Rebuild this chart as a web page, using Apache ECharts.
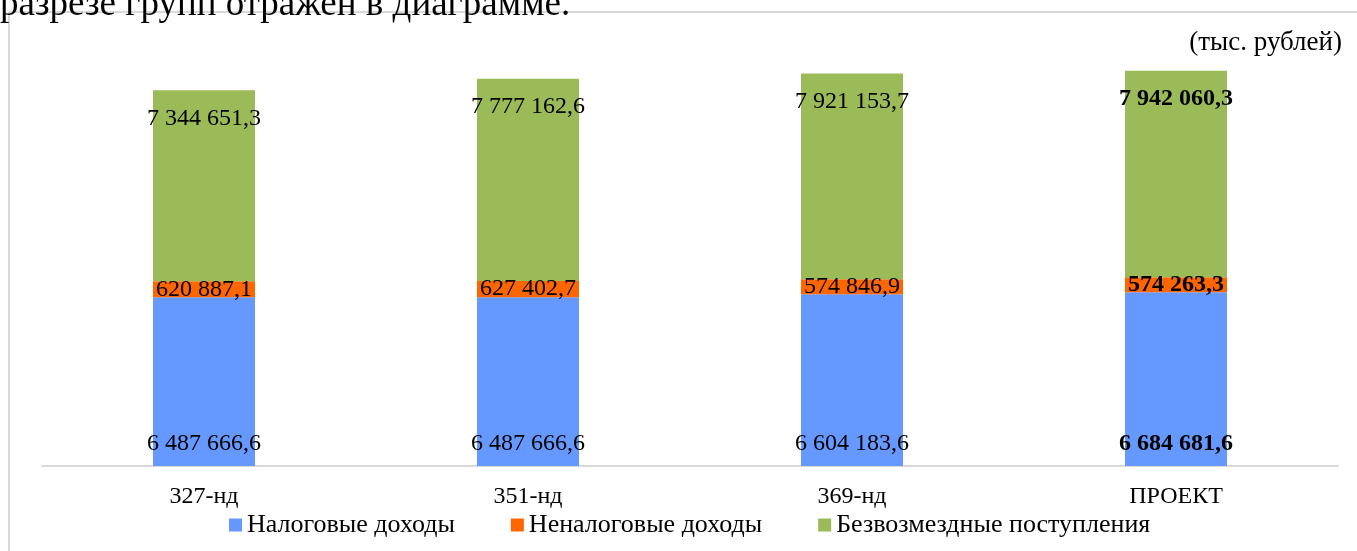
<!DOCTYPE html>
<html>
<head>
<meta charset="utf-8">
<script src="https://cdn.jsdelivr.net/npm/echarts@6.0.0/dist/echarts.min.js"></script>
<style>
  html, body { margin: 0; padding: 0; background: #fff; }
  #chart { width: 1357px; height: 551px; }
</style>
</head>
<body>
<div id="chart"></div>
<script>
// данные диаграммы
var categories = ['327-нд', '351-нд', '369-нд', 'ПРОЕКТ'];
var seriesNames = ['Налоговые доходы', 'Неналоговые доходы', 'Безвозмездные поступления'];
var taxIncome = [6487666.6, 6487666.6, 6604183.6, 6684681.6];
var nonTaxIncome = [620887.1, 627402.7, 574846.9, 574263.3];
var grants = [7344651.3, 7777162.6, 7921153.7, 7942060.3];
var boldIndex = 3;

var FONT = '"Liberation Serif", "Times New Roman", serif';

// 6487666.6 -> "6 487 666,6"
function fmt(v) {
  var parts = v.toFixed(1).split('.');
  var intPart = parts[0].replace(/\B(?=(\d{3})+(?!\d))/g, ' ');
  return intPart + ',' + parts[1];
}

function toData(arr) {
  return arr.map(function (v, i) {
    return {value: v, label: {fontWeight: i === boldIndex ? 'bold' : 'normal'}};
  });
}

function makeSeries(name, arr, color, position, distance) {
  return {
    name: name,
    type: 'bar',
    stack: 'total',
    barWidth: 102,
    itemStyle: {color: color},
    label: {
      show: true,
      position: position,
      distance: distance,
      color: '#000',
      fontFamily: FONT,
      fontSize: 24,
      formatter: function (p) { return fmt(p.value); }
    },
    data: toData(arr)
  };
}

var chart = echarts.init(document.getElementById('chart'));
chart.setOption({
  animation: false,
  backgroundColor: '#fff',
  textStyle: {fontFamily: FONT},
  grid: {left: 42, right: 19, top: 50, bottom: 85},
  legend: {
    left: 224,
    top: 507,
    icon: 'rect',
    itemWidth: 13,
    itemHeight: 13,
    itemGap: 56,
    textStyle: {fontFamily: FONT, fontSize: 26, color: '#000'},
    data: seriesNames
  },
  xAxis: {
    type: 'category',
    data: categories,
    axisLine: {lineStyle: {color: '#d9d9d9', width: 2}},
    axisTick: {show: false},
    axisLabel: {fontFamily: FONT, fontSize: 24, color: '#000', margin: 19}
  },
  yAxis: {
    type: 'value',
    min: 0,
    max: 16000000,
    show: false,
    splitLine: {show: false}
  },
  graphic: [
    {type: 'line', shape: {x1: 9, y1: 12, x2: 1357, y2: 12}, style: {stroke: '#d9d9d9', lineWidth: 2}, z: -1},
    {type: 'line', shape: {x1: 9, y1: 12, x2: 9, y2: 551}, style: {stroke: '#d9d9d9', lineWidth: 2}, z: -1},
    {
      type: 'text', left: 0, top: -13,
      style: {text: 'разрезе групп отражен в диаграмме.', font: '37px ' + FONT, fill: '#000'}
    },
    {
      type: 'text', right: 15, top: 29,
      style: {text: '(тыс. рублей)', font: '27px ' + FONT, fill: '#000'}
    }
  ],
  series: [
    makeSeries(seriesNames[0], taxIncome, '#6699ff', 'insideBottom', 10),
    makeSeries(seriesNames[1], nonTaxIncome, '#ff6600', 'inside', 0),
    makeSeries(seriesNames[2], grants, '#9bbb59', 'insideTop', 16)
  ]
});
</script>
</body>
</html>
